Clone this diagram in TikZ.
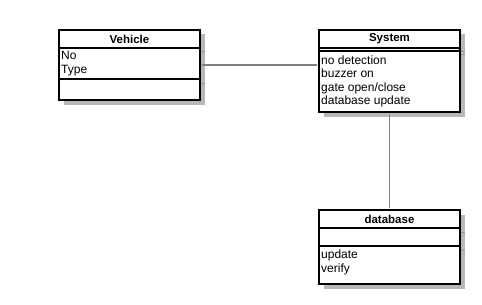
\documentclass[tikz,border=0pt]{standalone}
\usepackage{fontspec}
\setmainfont{Liberation Sans}
\usetikzlibrary{shadows}

\tikzset{
  classbox/.style={draw=black, line width=2pt, fill=white, inner sep=0pt,
    minimum width=141pt,
    drop shadow={shadow xshift=4.5pt, shadow yshift=-4.5pt, fill=black!28, opacity=1}},
  classname/.style={inner sep=0pt, font=\bfseries\fontsize{11.5}{13}\selectfont},
  members/.style={anchor=north west, inner sep=0pt, align=left,
    font=\fontsize{12}{13.5}\selectfont},
  assoc/.style={draw=black!50, line width=1.6pt},
  sepshade/.style={draw=black!42, line width=1pt},
  compline/.style={line width=2pt}
}

\begin{document}
\begin{tikzpicture}[x=1pt,y=-1pt]
    \useasboundingbox (0,0) rectangle (482,305);

    % class boxes
    \node[classbox, minimum height=70pt] (vehicle) at (129.5,65) {};
    \node[classbox, minimum height=82pt] (system) at (389.5,71) {};
    \node[classbox, minimum height=74pt] (database) at (389.5,247) {};

    % compartments
    \draw[compline] (59,48) -- (200,48);
    \draw[compline] (59,79) -- (200,79);
    \draw[compline] (319,48) -- (460,48);
    \draw[compline] (319,51) -- (460,51);
    \draw[compline] (319,228) -- (460,228);
    \draw[compline] (319,246) -- (460,246);

    % separator lines seen through the shadow
    \foreach \x/\y in {201/52, 201/84, 461/52, 461/55, 461/232, 461/250}{
        \draw[sepshade] (\x,\y) -- (\x+4,\y);
    }

    % names
    \node[classname] (vehiclename) at (129.5,39) {Vehicle};
    \node[classname] (systemname) at (389.5,39) {System};
    \node[classname] (databasename) at (389.5,219) {database};

    % attributes and operations
    \node[members] (vehicleattr) at (61,51.5) {No\\Type};
    \node[members] (systemops) at (321,55.5) {no detection\\buzzer on\\gate open/close\\database update};
    \node[members] (databaseops) at (321,250) {update\\verify};

    % associations
    \draw[assoc, shorten <=1pt, shorten >=1pt] (vehicle.east) -- (vehicle.east -| system.west);
    \draw[assoc, shorten <=1pt, shorten >=1pt] (system.south) -- (database.north);

\end{tikzpicture}
\end{document}
